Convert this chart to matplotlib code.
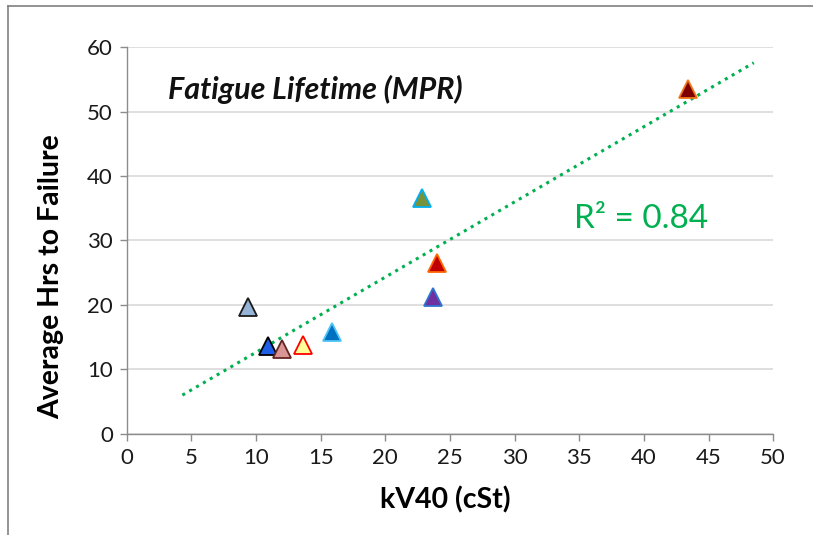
import numpy as np
import matplotlib
matplotlib.use("Agg")
import matplotlib.pyplot as plt
from matplotlib.lines import Line2D

plt.rcParams['font.family'] = ['Lato', 'DejaVu Sans']

# Data
kv40 = [9.4, 10.9, 12.0, 13.6, 15.9, 22.8, 24.0, 23.7, 43.4]
hrs = [19.7, 13.6, 13.2, 13.8, 15.8, 36.6, 26.5, 21.2, 53.5]
face_colors = ['#95B3D7', '#1F5FE8', '#D99694', '#FFFF99', '#0070C0',
               '#77933C', '#C00000', '#7030A0', '#7F0000']
edge_colors = ['#1A1A1A', '#000000', '#632523', '#FF0000', '#4FC3F7',
               '#00B0F0', '#FF6600', '#2E75D0', '#F07818']
x_ticks = [0, 5, 10, 15, 20, 25, 30, 35, 40, 45, 50]
y_ticks = [0, 10, 20, 30, 40, 50, 60]

fig = plt.figure(figsize=(8.13, 5.35), dpi=100)
ax = fig.add_axes([0.156, 0.189, 0.795, 0.723])

# Trendline
slope, intercept = np.polyfit(kv40, hrs, 1)
pred = np.polyval([slope, intercept], kv40)
r2 = 1 - np.sum((np.array(hrs) - pred) ** 2) / np.sum((np.array(hrs) - np.mean(hrs)) ** 2)
xfit = np.linspace(4.3, 48.5, 100)
ax.plot(xfit, slope * xfit + intercept, linestyle=(0, (1, 1.6)), color='#00B050',
        linewidth=2.2, zorder=2)

for x, y, fc, ec in zip(kv40, hrs, face_colors, edge_colors):
    ax.plot(x, y, marker='^', markersize=13, markerfacecolor=fc,
            markeredgecolor=ec, markeredgewidth=1.3, linestyle='none', zorder=3)

ax.set_xlim(0, 50)
ax.set_ylim(0, 60)
ax.set_xticks(x_ticks)
ax.set_yticks(y_ticks)
ax.tick_params(axis='both', labelsize=16, colors='#8C8C8C', length=5,
               width=1, direction='out', labelcolor='#1A1A1A', pad=5)
ax.yaxis.grid(True, color='#D9D9D9', linewidth=1.2)
ax.set_axisbelow(True)
for s in ['top', 'right']:
    ax.spines[s].set_visible(False)
for s in ['left', 'bottom']:
    ax.spines[s].set_color('#8C8C8C')
    ax.spines[s].set_linewidth(1)

ax.set_xlabel('kV40 (cSt)', fontsize=20.5, fontweight='bold')
ax.xaxis.set_label_coords(0.492, -0.135)
ax.set_ylabel('Average Hrs to Failure', fontsize=20.5, fontweight='bold')
ax.yaxis.set_label_coords(-0.097, 0.406)

ax.text(3.2, 53.5, 'Fatigue Lifetime (MPR)', fontsize=22, fontweight='bold',
        fontstyle='italic', va='center', ha='left', color='#111111')
ax.text(34.6, 33.4, 'R² = {:.2f}'.format(r2), fontsize=24, color='#00B050',
        va='center', ha='left')

# Outer frame
fig.add_artist(Line2D([8 / 813, 8 / 813], [0, 1 - 6 / 535], color='#808080', linewidth=1.2))
fig.add_artist(Line2D([8 / 813, 1], [1 - 6 / 535, 1 - 6 / 535], color='#808080', linewidth=1.2))

fig.savefig('out.png', dpi=100)
